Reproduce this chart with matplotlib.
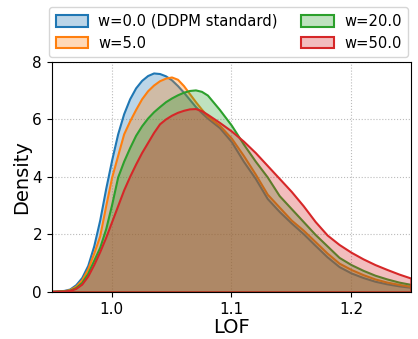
import matplotlib
matplotlib.use("Agg")
import matplotlib.pyplot as plt

lof = [0.95, 0.96, 0.965, 0.97, 0.975, 0.98, 0.985, 0.99, 0.995, 1.00, 1.005, 1.01,
       1.015, 1.02, 1.025, 1.03, 1.035, 1.04, 1.045, 1.05, 1.055, 1.06, 1.065, 1.07,
       1.075, 1.08, 1.09, 1.10, 1.11, 1.12, 1.13, 1.14,
       1.15, 1.16, 1.17, 1.18, 1.19, 1.20, 1.21, 1.22, 1.23, 1.24, 1.25]

dens_w0 = [0.02, 0.05, 0.10, 0.25, 0.50, 0.92, 1.60, 2.50, 3.60, 4.60, 5.50, 6.20,
           6.72, 7.10, 7.36, 7.53, 7.62, 7.60, 7.52, 7.38, 7.18, 6.95, 6.70, 6.45,
           6.24, 6.05, 5.72, 5.23, 4.55, 3.95, 3.25, 2.80,
           2.40, 2.03, 1.62, 1.22, 0.88, 0.66, 0.50, 0.37, 0.28, 0.21, 0.16]
dens_w5 = [0.02, 0.04, 0.08, 0.20, 0.42, 0.80, 1.35, 1.95, 3.00, 4.00, 4.75, 5.50,
           5.95, 6.35, 6.72, 7.00, 7.20, 7.35, 7.44, 7.48, 7.40, 7.18, 6.90, 6.62,
           6.36, 6.12, 5.80, 5.35, 4.75, 4.10, 3.40, 2.95,
           2.50, 2.15, 1.75, 1.35, 1.00, 0.78, 0.60, 0.45, 0.34, 0.26, 0.19]
dens_w20 = [0.02, 0.03, 0.06, 0.15, 0.33, 0.65, 1.10, 1.55, 2.20, 3.05, 4.00, 4.55,
            5.02, 5.45, 5.78, 6.05, 6.27, 6.45, 6.62, 6.75, 6.86, 6.95, 7.01, 7.03,
            6.98, 6.85, 6.35, 5.80, 5.15, 4.55, 4.00, 3.35,
            2.90, 2.45, 2.00, 1.60, 1.20, 0.95, 0.75, 0.58, 0.45, 0.34, 0.26]
dens_w50 = [0.02, 0.03, 0.05, 0.12, 0.27, 0.55, 0.95, 1.40, 1.90, 2.45, 3.00, 3.55,
            4.02, 4.45, 4.85, 5.20, 5.55, 5.85, 6.02, 6.15, 6.25, 6.32, 6.37, 6.38,
            6.31, 6.18, 5.90, 5.60, 5.25, 4.85, 4.40, 3.95,
            3.50, 3.00, 2.45, 1.98, 1.65, 1.38, 1.15, 0.95, 0.78, 0.62, 0.48]

labels = ["w=0.0 (DDPM standard)", "w=5.0", "w=20.0", "w=50.0"]
colors = ["#1f77b4", "#ff7f0e", "#2ca02c", "#d62728"]
series = [dens_w0, dens_w5, dens_w20, dens_w50]

fig = plt.figure(figsize=(4.18, 3.39), dpi=100)
ax = fig.add_axes([0.124, 0.139, 0.859, 0.678])

handles = []
for y, c, lab in zip(series, colors, labels):
    h = ax.fill_between(lof, 0, y, facecolor=matplotlib.colors.to_rgba(c, 0.3),
                        edgecolor=c, linewidth=1.5, label=lab, joinstyle="round")
    handles.append(h)

ax.set_xlim(0.95, 1.25)
ax.set_ylim(0, 8)
ax.set_xticks([1.0, 1.1, 1.2])
ax.set_yticks([0, 2, 4, 6, 8])
ax.tick_params(labelsize=11)
ax.set_xlabel("LOF", fontsize=14, labelpad=1)
ax.set_ylabel("Density", fontsize=14, labelpad=1)
ax.grid(True, linestyle=":", color="#bbbbbb", linewidth=0.8)
ax.set_axisbelow(True)

fig.legend(handles=handles, labels=labels, loc="upper center",
           bbox_to_anchor=(0.547, 1.0), ncol=2, fontsize=10.6,
           columnspacing=1.6, handlelength=2.2, handleheight=0.8,
           handletextpad=0.7, borderpad=0.45, labelspacing=0.45)

fig.savefig("out.png", dpi=100)
